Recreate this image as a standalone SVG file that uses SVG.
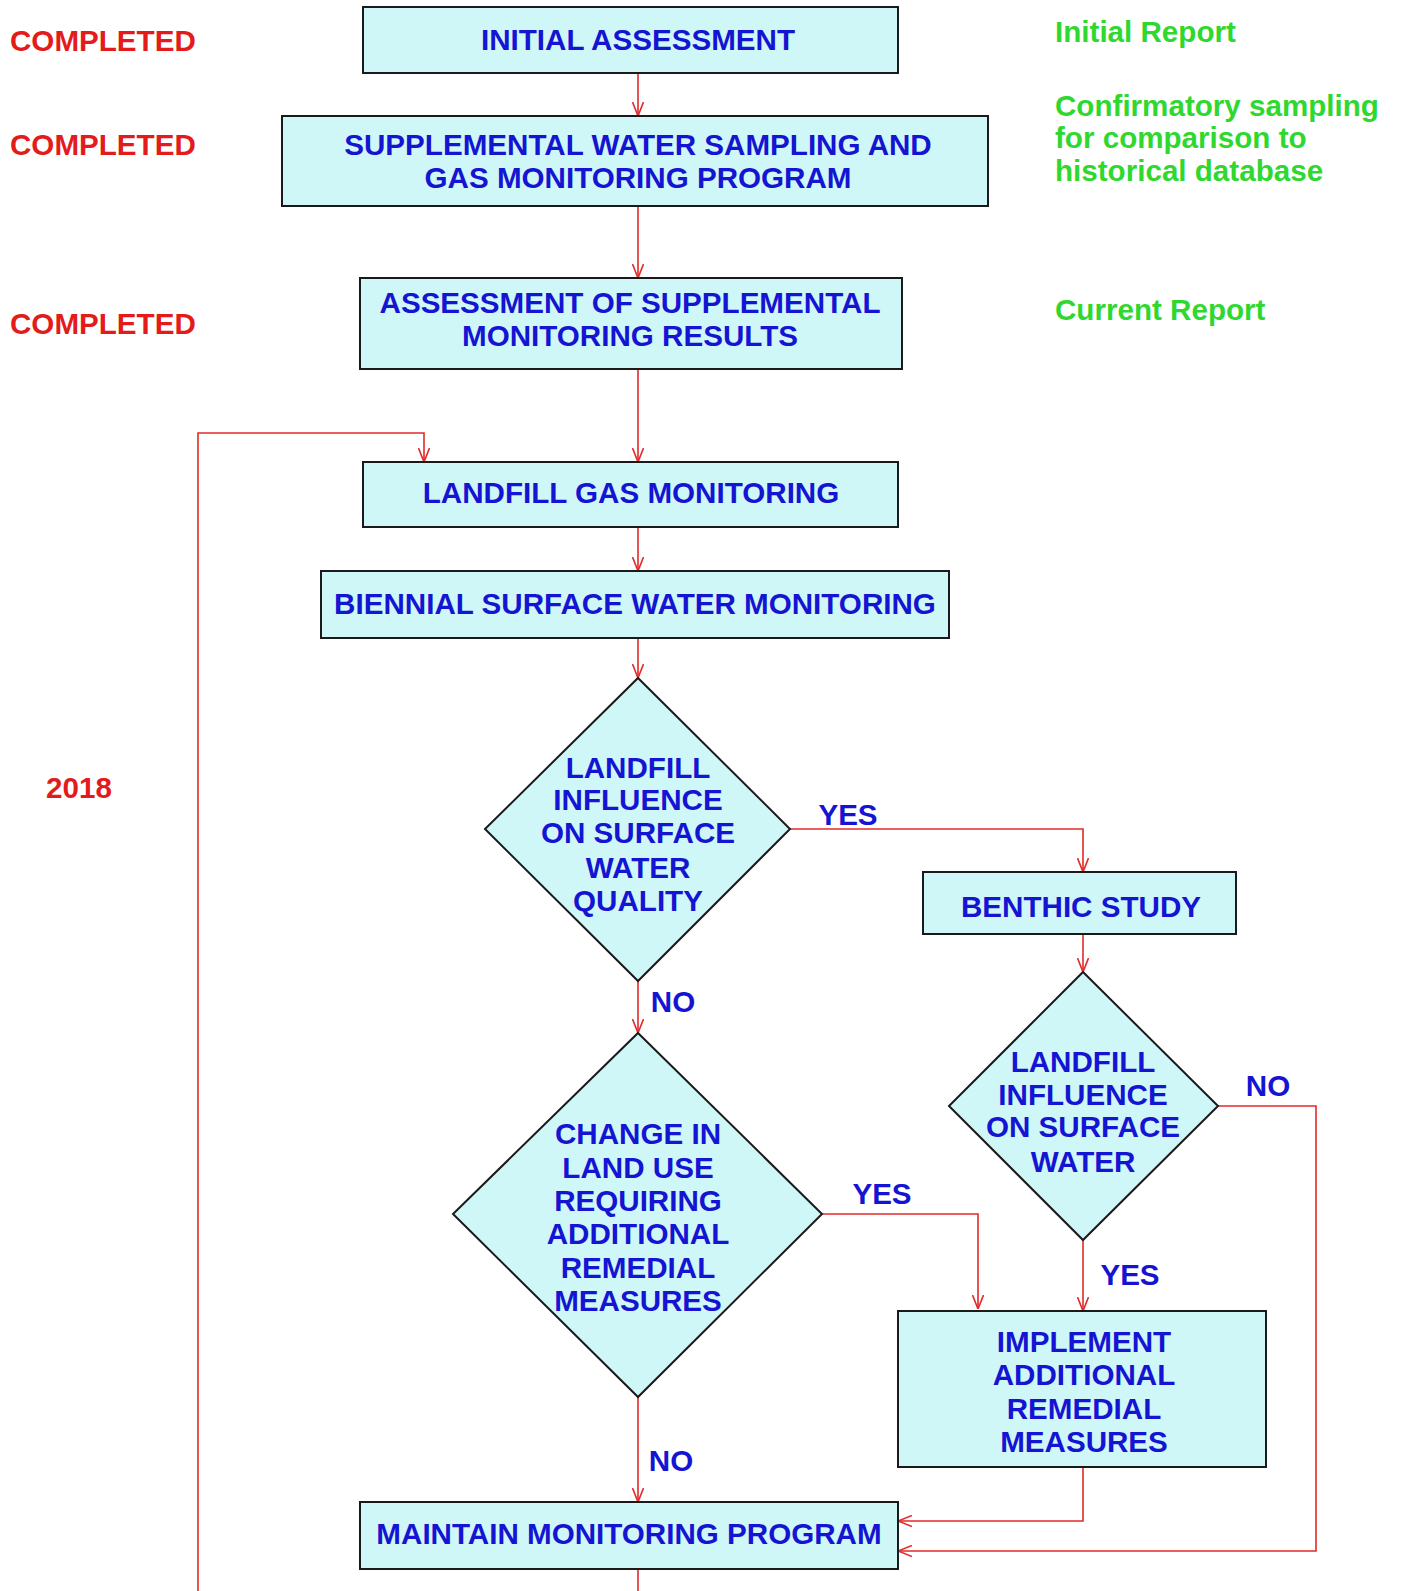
<svg xmlns="http://www.w3.org/2000/svg" width="1401" height="1591" viewBox="0 0 1401 1591">
<style>
.box{fill:#cff7f8;stroke:#1a1a1a;stroke-width:2}
.t{font-family:"Liberation Sans",Arial,sans-serif;font-weight:bold;font-size:29.6px;fill:#1414d2;text-anchor:middle}
.red{font-family:"Liberation Sans",Arial,sans-serif;font-weight:bold;font-size:29.6px;fill:#e41b1b}
.grn{font-family:"Liberation Sans",Arial,sans-serif;font-weight:bold;font-size:29.6px;fill:#2fd82f}
.c{fill:none;stroke:#e22a2a;stroke-width:1.6}
</style>
<defs>
<marker id="arr" viewBox="0 0 14 12" refX="14" refY="6" markerWidth="14" markerHeight="12" orient="auto" markerUnits="userSpaceOnUse">
<path d="M0,0.5 L14,6 L0,11.5" fill="none" stroke="#e22a2a" stroke-width="1.6"/>
</marker>
</defs>
<rect width="1401" height="1591" fill="#ffffff"/>
<g id="side-labels">
<text class="red" x="10" y="51">COMPLETED</text>
<text class="red" x="10" y="155">COMPLETED</text>
<text class="red" x="10" y="334">COMPLETED</text>
<text class="red" x="46" y="798">2018</text>
<text class="grn" x="1055" y="42">Initial Report</text>
<text class="grn" x="1055" y="116">Confirmatory sampling</text>
<text class="grn" x="1055" y="148">for comparison to</text>
<text class="grn" x="1055" y="181">historical database</text>
<text class="grn" x="1055" y="320">Current Report</text>
</g>
<g id="connectors">
<path class="c" d="M638,73 V116" marker-end="url(#arr)"/>
<path class="c" d="M638,206 V278" marker-end="url(#arr)"/>
<path class="c" d="M638,369 V462" marker-end="url(#arr)"/>
<path class="c" d="M198,1591 V433 H424 V462" marker-end="url(#arr)"/>
<path class="c" d="M638,527 V571" marker-end="url(#arr)"/>
<path class="c" d="M638,638 V678" marker-end="url(#arr)"/>
<path class="c" d="M790,829 H1083 V872" marker-end="url(#arr)"/>
<path class="c" d="M638,981 V1033" marker-end="url(#arr)"/>
<path class="c" d="M1083,934 V972" marker-end="url(#arr)"/>
<path class="c" d="M1218,1106 H1316 V1551 H898" marker-end="url(#arr)"/>
<path class="c" d="M1083,1240 V1311" marker-end="url(#arr)"/>
<path class="c" d="M822,1214 H978 V1309" marker-end="url(#arr)"/>
<path class="c" d="M638,1397 V1502" marker-end="url(#arr)"/>
<path class="c" d="M1083,1467 V1521 H898" marker-end="url(#arr)"/>
<path class="c" d="M638,1569 V1591"/>
<text class="t" x="848" y="825">YES</text>
<text class="t" x="673" y="1012">NO</text>
<text class="t" x="1268" y="1096">NO</text>
<text class="t" x="1130" y="1285">YES</text>
<text class="t" x="882" y="1204">YES</text>
<text class="t" x="671" y="1471">NO</text>
</g>
<g id="initial-assessment">
<rect class="box" x="363" y="7" width="535" height="66"/>
<text class="t" x="638" y="50">INITIAL ASSESSMENT</text>
</g>
<g id="supplemental">
<rect class="box" x="282" y="116" width="706" height="90"/>
<text class="t" x="638" y="155">SUPPLEMENTAL WATER SAMPLING AND</text>
<text class="t" x="638" y="188">GAS MONITORING PROGRAM</text>
</g>
<g id="assessment-results">
<rect class="box" x="360" y="278" width="542" height="91"/>
<text class="t" x="630" y="313">ASSESSMENT OF SUPPLEMENTAL</text>
<text class="t" x="630" y="346">MONITORING RESULTS</text>
</g>
<g id="landfill-gas">
<rect class="box" x="363" y="462" width="535" height="65"/>
<text class="t" x="631" y="503">LANDFILL GAS MONITORING</text>
</g>
<g id="biennial">
<rect class="box" x="321" y="571" width="628" height="67"/>
<text class="t" x="635" y="614">BIENNIAL SURFACE WATER MONITORING</text>
</g>
<g id="decision-quality">
<polygon class="box" points="638,678 790,829 638,981 485,829"/>
<text class="t" x="638" y="778">LANDFILL</text>
<text class="t" x="638" y="810">INFLUENCE</text>
<text class="t" x="638" y="843">ON SURFACE</text>
<text class="t" x="638" y="878">WATER</text>
<text class="t" x="638" y="911">QUALITY</text>
</g>
<g id="benthic">
<rect class="box" x="923" y="872" width="313" height="62"/>
<text class="t" x="1081" y="917">BENTHIC STUDY</text>
</g>
<g id="decision-influence">
<polygon class="box" points="1083,972 1218,1106 1083,1240 949,1106"/>
<text class="t" x="1083" y="1072">LANDFILL</text>
<text class="t" x="1083" y="1105">INFLUENCE</text>
<text class="t" x="1083" y="1137">ON SURFACE</text>
<text class="t" x="1083" y="1172">WATER</text>
</g>
<g id="decision-land-use">
<polygon class="box" points="638,1033 822,1214 638,1397 453,1214"/>
<text class="t" x="638" y="1144">CHANGE IN</text>
<text class="t" x="638" y="1178">LAND USE</text>
<text class="t" x="638" y="1211">REQUIRING</text>
<text class="t" x="638" y="1244">ADDITIONAL</text>
<text class="t" x="638" y="1278">REMEDIAL</text>
<text class="t" x="638" y="1311">MEASURES</text>
</g>
<g id="implement">
<rect class="box" x="898" y="1311" width="368" height="156"/>
<text class="t" x="1084" y="1352">IMPLEMENT</text>
<text class="t" x="1084" y="1385">ADDITIONAL</text>
<text class="t" x="1084" y="1419">REMEDIAL</text>
<text class="t" x="1084" y="1452">MEASURES</text>
</g>
<g id="maintain">
<rect class="box" x="360" y="1502" width="538" height="67"/>
<text class="t" x="629" y="1544">MAINTAIN MONITORING PROGRAM</text>
</g>
</svg>
